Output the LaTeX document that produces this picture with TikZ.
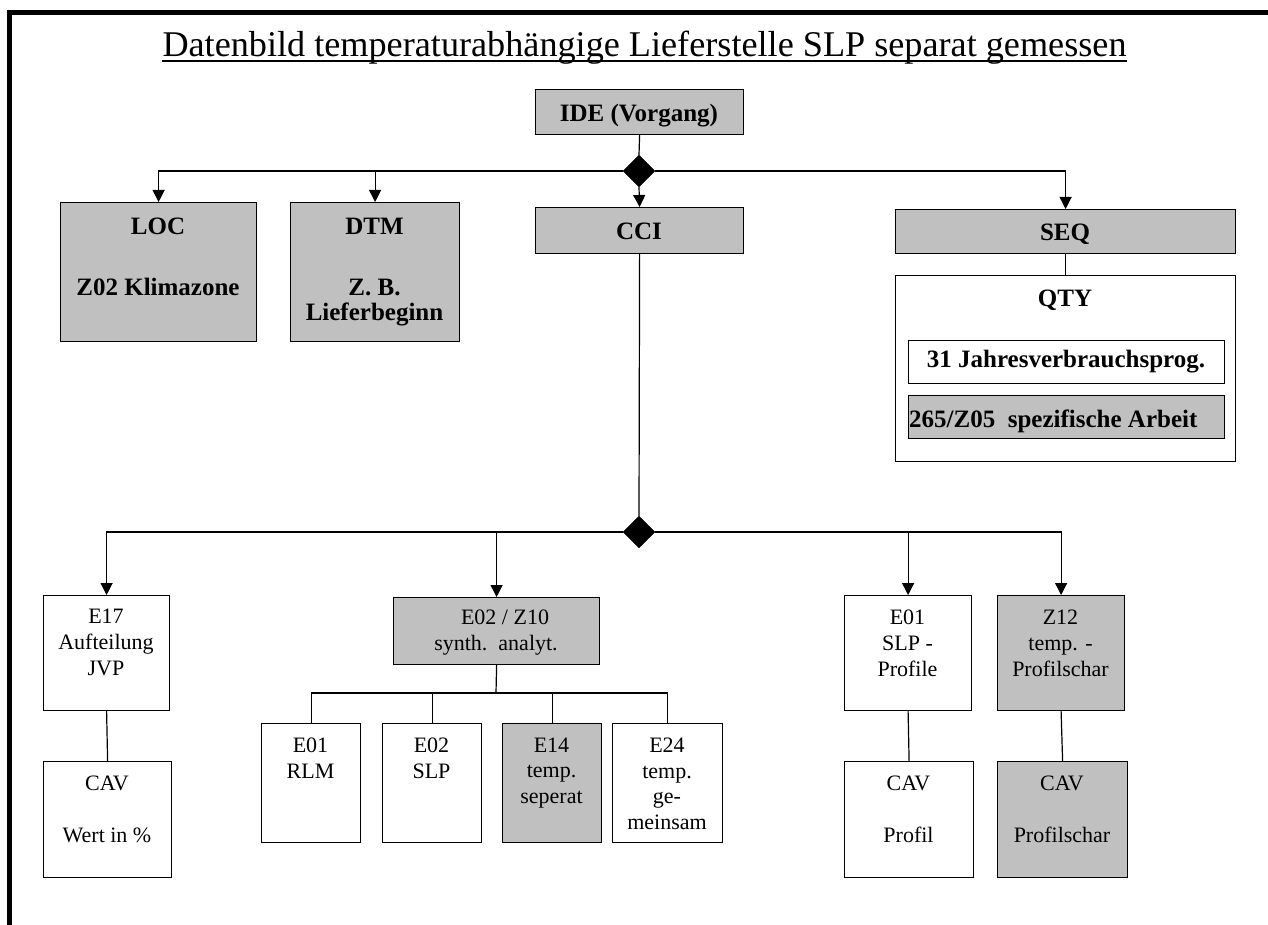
\documentclass[tikz,border=0pt]{standalone}
\usepackage{fontspec}
\setmainfont{Liberation Serif}
\usetikzlibrary{shapes.geometric,arrows.meta,calc}
\definecolor{boxgray}{HTML}{C0C0C0}
\newcommand\mybox[6]{\node[#1, minimum width={#5-#3}, minimum height={#6-#4}] (#2) at (#3,#4) {};}
\begin{document}
\begin{tikzpicture}[x=1pt,y=-1pt,
  box/.style={draw=black, line width=1.2pt, fill=white, inner sep=0pt, anchor=north west},
  gbox/.style={box, fill=boxgray},
  bt/.style={font=\fontsize{25}{25}\selectfont\bfseries, inner sep=0pt, anchor=base, align=center},
  rt/.style={font=\fontsize{22}{26}\selectfont, inner sep=0pt, anchor=base, align=center},
  conn/.style={line width=1.2pt},
  arr/.style={conn, -{Triangle[length=12pt,width=12pt]}},
  dia/.style={diamond, fill=black, draw=black, inner sep=0pt, minimum width=32pt, minimum height=32pt}
]
\fill[white] (0,0) rectangle (1268,925);
\useasboundingbox (0,0) rectangle (1268,925);
\draw[line width=5pt] (9.5,925) -- (9.5,12.5) -- (1268,12.5);

% title
\node[inner sep=0pt, anchor=base, font=\fontsize{36.2}{40}\selectfont] (title) at (644.5,57)
  {Datenbild temperaturabhängige Lieferstelle SLP separat gemessen};
\draw[line width=2pt] ($(title.base west)+(0,4.5)$) -- ($(title.base east)+(0,4.5)$);

% upper level boxes (multi-line texts are placed by the baseline of their last line)
\mybox{gbox}{ide}{535}{89}{743}{134}
\node[bt] (ideT) at (639,122) {IDE (Vorgang)};
\node[dia] (d1) at (639,171) {};

\mybox{gbox}{loc}{60}{202}{256}{341}
\node[bt] (locT) at (158,295) {LOC\\[36pt]Z02 Klimazone};
\mybox{gbox}{dtm}{290}{202}{459}{341}
\node[bt] (dtmT) at (374.5,320) {DTM\\[36pt]Z. B.\\Lieferbeginn};
\mybox{gbox}{cci}{535}{207}{743}{253}
\node[bt] (cciT) at (639,240) {CCI};
\mybox{gbox}{seq}{895}{209}{1235}{253}
\node[bt] (seqT) at (1065,241) {SEQ};
\mybox{box}{qty}{895}{275}{1235}{461}
\node[bt] (qtyT) at (1065,306) {QTY};
\mybox{box}{jvp}{908}{340}{1224}{383}
\node[bt] (jvpT) at (1066,367) {31 Jahresverbrauchsprog.};
\mybox{gbox}{spa}{908}{395}{1224}{438}
\node[bt, anchor=base west] (spaT) at (909,427) {265/Z05\ \ spezifische Arbeit};

% lower level
\node[dia] (d2) at (639,532) {};
\mybox{box}{e17}{43}{595}{169}{710}
\node[rt] (e17T) at (106,675) {E17\\Aufteilung\\JVP};
\mybox{gbox}{ez}{393}{597}{599}{664}
\node[rt] (ezT) at (496,650) {\hspace*{18pt}E02 / Z10\\synth.\ \ analyt.};
\mybox{box}{e01}{844}{595}{971}{710}
\node[rt] (e01T) at (907.5,676) {E01\\SLP -\\Profile};
\mybox{gbox}{z12}{997}{595}{1124}{710}
\node[rt] (z12T) at (1060.5,676) {Z12\\temp. -\\Profilschar};

\mybox{box}{cav1}{43}{761}{171}{877}
\node[rt] (cav1T) at (107,842) {CAV\\[26pt]Wert in \%};
\mybox{box}{cav2}{844}{761}{973}{877}
\node[rt] (cav2T) at (908.5,842) {CAV\\[26pt]Profil};
\mybox{gbox}{cav3}{997}{761}{1127}{877}
\node[rt] (cav3T) at (1062,842) {CAV\\[26pt]Profilschar};

\mybox{box}{s1}{261}{723}{360}{842}
\node[rt, font=\fontsize{22}{25.5}\selectfont] (s1T) at (310.5,778) {E01\\RLM};
\mybox{box}{s2}{382}{723}{481}{842}
\node[rt, font=\fontsize{22}{25.5}\selectfont] (s2T) at (431.5,778) {E02\\SLP};
\mybox{gbox}{s3}{502}{723}{601}{842}
\node[rt, font=\fontsize{22}{25.5}\selectfont] (s3T) at (551.5,803) {E14\\temp.\\seperat};
\mybox{box}{s4}{612}{723}{722}{842}
\node[rt, font=\fontsize{22}{25.5}\selectfont] (s4T) at (667,829) {E24\\temp.\\ge-\\meinsam};

% connectors
\draw[conn] (ide.south) -- (d1.north);
\draw[arr] (d1.south) -- (cci.north);
\draw[arr] (d1.west) -| (loc.north);
\draw[arr] (d1.west) -| (dtm.north);
\draw[arr] (d1.east) -| (seq.north);
\draw[conn] (seq.south) -- (qty.north);
\draw[conn] (cci.south) -- (d2.north);
\draw[arr] (d2.west) -| (e17.north);
\draw[arr] (d2.west) -| (ez.north);
\draw[arr] (d2.east) -| (e01.north);
\draw[arr] (d2.east) -| (z12.north);
\draw[conn] (e17.south) -- (cav1.north);
\draw[conn] (e01.south) -- (cav2.north);
\draw[conn] (z12.south) -- (cav3.north);
\coordinate (bus) at (496,693);
\draw[conn] (ez.south) -- (bus);
\draw[conn] (s1.north) |- (bus);
\draw[conn] (s2.north) |- (bus);
\draw[conn] (s3.north) |- (bus);
\draw[conn] (s4.north) |- (bus);
\end{tikzpicture}
\end{document}
